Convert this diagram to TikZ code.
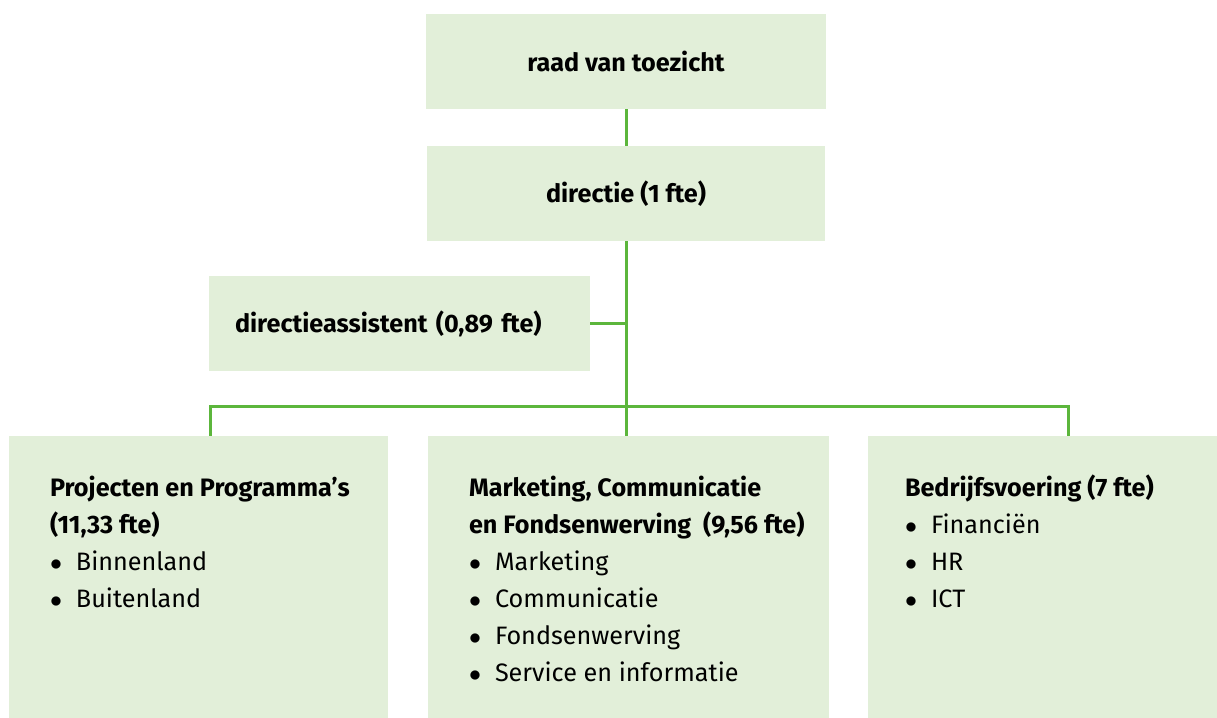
\documentclass[tikz,border=0pt]{standalone}
\usepackage{fontspec}
\setmainfont{Fira Sans}
\usetikzlibrary{positioning}
\definecolor{boxgreen}{RGB}{226,239,217}
\definecolor{linegreen}{RGB}{92,182,60}
\newcommand{\itm}{\makebox[13pt][l]{$\bullet$}}
\newcommand{\firstln}{\rule{0pt}{12pt}}

\begin{document}
\begin{tikzpicture}
	[x=0.5pt, y=-0.5pt,
	 bx/.style={rectangle, fill=boxgreen, inner sep=0pt, minimum height=47.5pt,
	                    font=\fontsize{12.6}{14}\selectfont\bfseries},
	 unit/.style={rectangle, fill=boxgreen, inner sep=0pt, minimum height=141pt},
	 lst/.style={inner sep=0pt, align=left, anchor=north west,
	                    font=\fontsize{12.6}{18.5}\selectfont},
	 link/.style={draw=linegreen, line width=1.5pt}]
	\useasboundingbox (0,0) rectangle (1217,718);
	\node[bx, minimum width=200pt] (raad) at (626,61.5) {raad van toezicht};
	\node[bx, minimum width=199pt] (dir) at (626,193.5) {directie (1 fte)};
	\node[bx, inner xsep=13pt, text width=164.5pt, align=left] (assist) at (399.5,323.5) {directieassistent (0,89 fte)};
	\node[unit, minimum width=189.5pt] (proj) at (198.5,577) {};
	\node[unit, minimum width=200.5pt] (comm) at (628.5,577) {};
	\node[unit, minimum width=174.5pt] (bedr) at (1042.5,577) {};
	\coordinate (bar) at (626,406);

	\node[lst] (projtxt) at ([shift={(20.5pt,-18pt)}]proj.north west)
		{\firstln\textbf{Projecten en Programma’s}\\ \textbf{(11,33 fte)}\\ \itm Binnenland\\ \itm Buitenland};
	\node[lst] (commtxt) at ([shift={(20.5pt,-18pt)}]comm.north west)
		{\firstln\textbf{Marketing, Communicatie}\\ \textbf{en Fondsenwerving\ \ (9,56 fte)}\\ \itm Marketing\\ \itm Communicatie\\ \itm Fondsenwerving\\ \itm Service en informatie};
	\node[lst] (bedrtxt) at ([shift={(18.5pt,-18pt)}]bedr.north west)
		{\firstln\textbf{Bedrijfsvoering (7 fte)}\\ \itm Financiën\\ \itm HR\\ \itm ICT};

	\draw[link] (raad.south) -- (dir.north);
	\draw[link] (dir.south) -- (comm.north -| dir.south);
	\draw[link] (assist.east) -- (assist.east -| dir.south);
	\draw[link] ([xshift=5.75pt]proj.north) |- (bar) -| ([xshift=12.75pt]bedr.north);
\end{tikzpicture}
\end{document}
